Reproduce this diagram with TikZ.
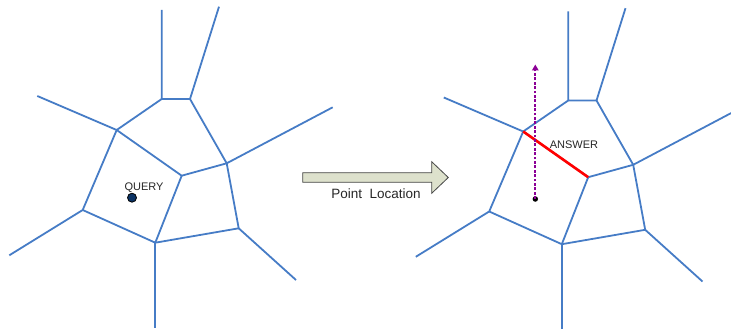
\documentclass[tikz,border=0pt]{standalone}
\usepackage{fontspec}
\setmainfont{Liberation Sans}
\usetikzlibrary{arrows.meta}
\definecolor{voroblue}{RGB}{70,124,198}
\definecolor{arrowfill}{RGB}{221,225,204}
\definecolor{arrowedge}{RGB}{70,70,70}
\definecolor{querynavy}{RGB}{10,50,100}
\definecolor{rayviolet}{RGB}{140,0,150}
\tikzset{
  voro/.style={draw=voroblue, line width=1.8pt, line join=round},
  answeredge/.style={draw=red, line width=2.6pt},
  rayline/.style={draw=rayviolet, line width=1.7pt, dash pattern=on 2.8pt off 1.6pt,
    -{Triangle[length=6pt,width=6.5pt]}},
  txt/.style={inner sep=0pt, font=\fontsize{11}{12}\selectfont, text=black!85},
  bigarrow/.style={draw=arrowedge, fill=arrowfill, line width=0.8pt, line join=miter},
}
\newcommand{\vorodiagram}[3]{%
  \begin{scope}[shift={(#2,#3)}]
    \coordinate (#1A) at (161.7,99);
    \coordinate (#1B) at (190,99);
    \coordinate (#1C) at (116.7,130);
    \coordinate (#1D) at (226.7,163.3);
    \coordinate (#1E) at (181.7,175.7);
    \coordinate (#1F) at (82.7,210);
    \coordinate (#1G) at (155.3,242.7);
    \coordinate (#1H) at (238.7,228.3);
    \coordinate (#1top) at (161.7,10);
    \coordinate (#1topr) at (219,6.7);
    \coordinate (#1left) at (37.3,96);
    \coordinate (#1right) at (332.7,107.3);
    \coordinate (#1lowl) at (9.3,255.3);
    \coordinate (#1bot) at (155.3,327.7);
    \coordinate (#1lowr) at (296,280);
    \draw[voro] (#1top) -- (#1A) -- (#1B) -- (#1topr);
    \draw[voro] (#1left) -- (#1C) -- (#1A);
    \draw[voro] (#1B) -- (#1D) -- (#1right);
    \draw[voro] (#1C) -- (#1E) -- (#1D);
    \draw[voro] (#1C) -- (#1F) -- (#1lowl);
    \draw[voro] (#1F) -- (#1G) -- (#1E);
    \draw[voro] (#1G) -- (#1bot);
    \draw[voro] (#1G) -- (#1H) -- (#1D);
    \draw[voro] (#1H) -- (#1lowr);
  \end{scope}}
\begin{document}
\begin{tikzpicture}[x=1pt,y=-1pt]
  \useasboundingbox (0,0) rectangle (731,329);
  % left diagram
  \vorodiagram{L}{0}{0}
  \node[circle, draw=black, line width=0.8pt, fill=querynavy, minimum size=9pt, inner sep=0pt] (query) at (132,197.7) {};
  \node[txt] (querytext) at (144,187.3) {QUERY};
  % big arrow
  \draw[bigarrow] (302.7,172.7) -- (431.7,172.7) -- (431.7,161.7) -- (448.3,177.5)
     -- (431.7,193.3) -- (431.7,182.3) -- (302.7,182.3) -- cycle;
  \node[inner sep=0pt, font=\fontsize{13.5}{15}\selectfont, text=black!85] (pl) at (376,193.5) {Point\ \ Location};
  % right diagram
  \vorodiagram{R}{406.5}{1.5}
  \draw[answeredge] (RC) -- (RE);
  \coordinate (raytop) at (535.3,64.5);
  \node[circle, fill=black, minimum size=5.5pt, inner sep=0pt] (qpt) at (535.3,199) {};
  \draw[rayline] (qpt.center) -- (raytop);
  \node[txt] (answertext) at (574,145) {ANSWER};
\end{tikzpicture}
\end{document}
